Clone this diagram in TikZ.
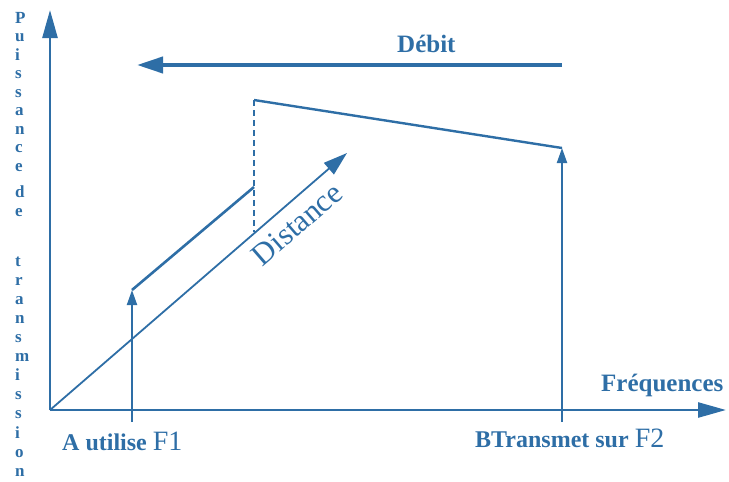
\documentclass[tikz,border=0pt]{standalone}
\usepackage{fontspec}
\setmainfont{Liberation Serif}
\usetikzlibrary{arrows.meta}
\definecolor{cblue}{RGB}{46,110,166}
\begin{document}
\begin{tikzpicture}[x=1pt,y=-1pt,
  every node/.style={text=cblue, inner sep=0pt},
  axisline/.style={draw=cblue, line width=2.6pt, -{Triangle[length=28pt,width=15pt]}},
  thinarrow/.style={draw=cblue, line width=2pt, -{Triangle[length=15pt,width=10pt]}},
  boldlbl/.style={font=\bfseries\fontsize{25}{25}\selectfont},
  yletter/.style={anchor=base west, font=\bfseries\fontsize{17}{17}\selectfont}]
\useasboundingbox (0,0) rectangle (729,482);
% axes
\coordinate (O) at (50,410);
\coordinate (Ytop) at (50,10);
\coordinate (Xend) at (726,410);
\draw[axisline] (O) -- (Ytop);
\draw[axisline] (O) -- (Xend);
% debit arrow
\coordinate (D1) at (562,65);
\coordinate (D2) at (137,65);
\draw[draw=cblue, line width=4pt, -{Triangle[length=26pt,width=16pt]}] (D1) -- (D2);
% distance arrow
\coordinate (Dist) at (347,153);
\draw[draw=cblue, line width=1.8pt, -{Triangle[length=24pt,width=15pt]}] (O) -- (Dist);
% F1
\coordinate (F1b) at (132,422);
\coordinate (F1t) at (132,290);
\draw[thinarrow] (F1b) -- (F1t);
\coordinate (K) at (254,187);
\draw[draw=cblue, line width=2.6pt] (F1t) -- (K);
\coordinate (M) at (254,100);
\coordinate (Mb) at (254,232);
\draw[draw=cblue, line width=1.8pt, dash pattern=on 6pt off 4pt] (M) -- (Mb);
% F2
\coordinate (F2b) at (562,422);
\coordinate (F2t) at (562,148);
\draw[thinarrow] (F2b) -- (F2t);
\draw[draw=cblue, line width=2.4pt] (M) -- (F2t);
% labels
\node[boldlbl, anchor=base west] (debit) at (397,52) {Débit};
\node[boldlbl, anchor=base west] (freq) at (601,391) {Fréquences};
\node[anchor=base west] (la) at (62,450) {\bfseries\fontsize{24}{24}\selectfont A utilise \mdseries\fontsize{28}{28}\selectfont F1};
\node[anchor=base west] (lb) at (475,447) {\bfseries\fontsize{24}{24}\selectfont BTransmet sur \mdseries\fontsize{28}{28}\selectfont F2};
\node[rotate=40.9, font=\fontsize{31}{31}\selectfont] (dist) at (297,224) {Distance};
% vertical axis label
\foreach \ch/\yy [count=\i] in {P/23,u/41.5,i/60,s/78.5,s/97,a/115.5,n/134,c/152.5,e/171,d/197,e/216,t/266,r/285,a/304,n/323,s/342,m/361,i/380,s/399,s/418,i/438,o/457,n/476}
  \node[yletter] (yl\i) at (15,\yy) {\ch};
\end{tikzpicture}
\end{document}
